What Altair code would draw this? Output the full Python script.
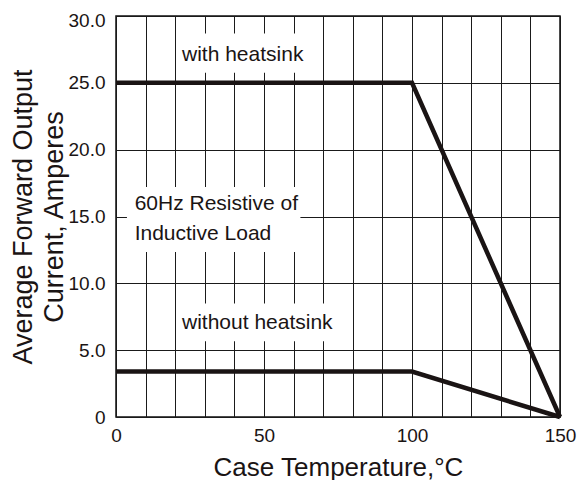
import altair as alt
import pandas as pd

# Curves (case temperature °C, average forward current A)
temp_with = [0, 100, 150]
amps_with = [25.0, 25.0, 0.0]
temp_without = [0, 100, 150]
amps_without = [3.4, 3.4, 0.0]

# Annotation text
ann_text = ["with heatsink", "60Hz Resistive of", "Inductive Load", "without heatsink"]
ann_t = [22.3, 6.3, 6.3, 22.3]
ann_i = [27.1, 15.9, 13.7, 7.0]

# White label boxes behind annotations
box_t0 = [21.3, 3.7, 21.3]
box_t1 = [68.5, 62.3, 78.0]
box_i0 = [25.75, 12.35, 5.66]
box_i1 = [28.7, 17.2, 8.5]

x_grid = list(range(0, 151, 10))
y_grid = [0, 5, 10, 15, 20, 25, 30]

curves = pd.DataFrame({
    "T": temp_with + temp_without,
    "I": amps_with + amps_without,
    "series": ["with"] * len(temp_with) + ["without"] * len(temp_without),
})
ann = pd.DataFrame({"text": ann_text, "T": ann_t, "I": ann_i})
boxes = pd.DataFrame({"t0": box_t0, "t1": box_t1, "i0": box_i0, "i1": box_i1})

FONT = "Liberation Sans"
INK = "#1a1414"
W, H = 444, 401
TOP = 8

xscale = alt.Scale(domain=[0, 150], nice=False, zero=False)
yscale = alt.Scale(domain=[0, 30], nice=False)

xaxis = alt.Axis(
    values=x_grid,
    labelExpr="datum.value % 50 == 0 ? datum.label : ''",
    title="Case Temperature,°C",
    grid=True, ticks=False, tickSize=0, domain=False,
    labelPadding=9, labelFontSize=19, labelFont=FONT, labelColor=INK,
    titleFontSize=26, titleFont=FONT, titleFontWeight="normal", titleColor=INK,
    titleY=58, titleBaseline="alphabetic",
    labelFlush=False,
)
yaxis = alt.Axis(
    values=y_grid,
    labelExpr="datum.value == 0 ? '0' : format(datum.value, '.1f')",
    title=["Average Forward Output", "Current, Amperes"],
    grid=True, ticks=False, tickSize=0, domain=False,
    labelPadding=11, labelFontSize=19, labelFont=FONT, labelColor=INK,
    labelOffset={"condition": {"test": "datum.value == 30", "value": 4}, "value": 0},
    titleFontSize=27, titleFont=FONT, titleFontWeight="normal", titleColor=INK,
    titleAngle=270, titleX=-106, titleY=H / 2, titleBaseline="top", titleAlign="center",
    titleLineHeight=31,
    labelFlush=False,
)

base_x = alt.X("T:Q", scale=xscale, axis=xaxis)
base_y = alt.Y("I:Q", scale=yscale, axis=yaxis)

rects = alt.Chart(boxes).mark_rect(color="white", opacity=1).encode(
    x=alt.X("t0:Q", scale=xscale, axis=xaxis),
    x2="t1:Q",
    y=alt.Y("i0:Q", scale=yscale, axis=yaxis),
    y2="i1:Q",
)

lines = alt.Chart(curves).mark_line(color=INK, strokeWidth=4.5, strokeJoin="miter").encode(
    x=base_x, y=base_y, detail="series:N", order="T:Q"
)

texts = alt.Chart(ann).mark_text(
    align="left", baseline="middle", font=FONT, fontSize=21, color=INK
).encode(x=base_x, y=base_y, text="text:N")

chart = alt.layer(rects, lines, texts).properties(
    width=W, height=H,
    autosize=alt.AutoSizeParams(type="none"),
    padding={"left": 108, "top": TOP, "right": 570 - 108 - W, "bottom": 472 - TOP - H},
).configure_view(
    stroke="#111111", strokeWidth=1.5
).configure_axis(
    gridColor="#1a1a1a", gridWidth=1, gridOpacity=1
)

chart.save("out.html", embed_options={"renderer": "svg", "actions": False})
